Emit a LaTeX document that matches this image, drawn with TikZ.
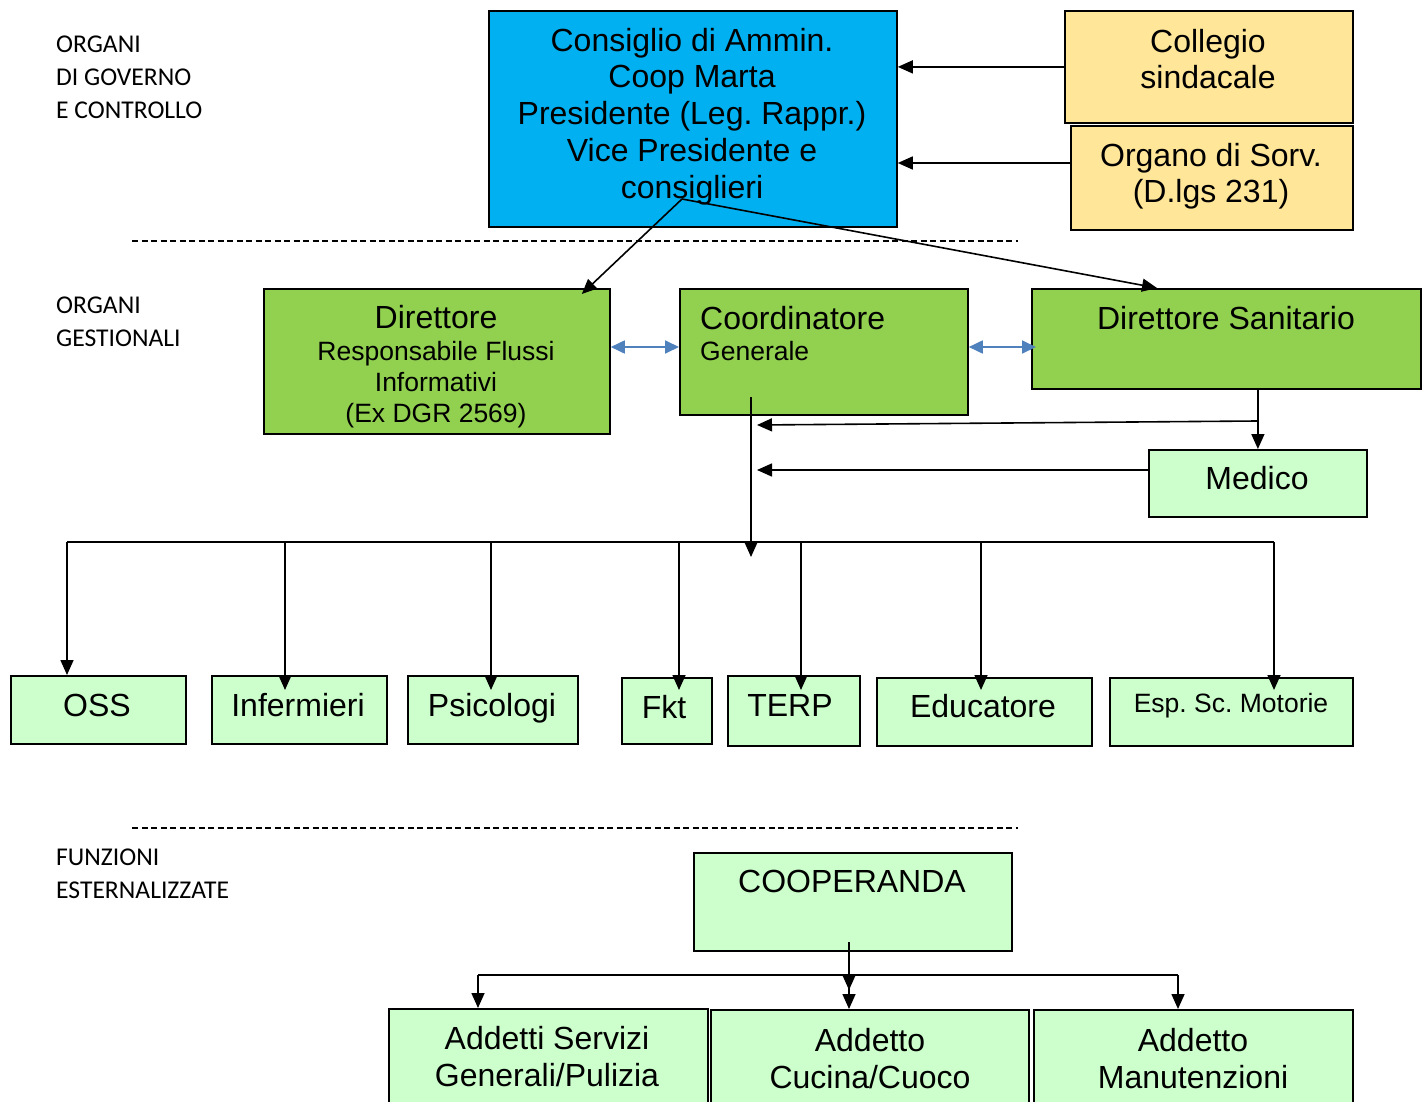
\documentclass[tikz,border=0pt]{standalone}
\usepackage{fontspec}
\setmainfont{Liberation Sans}
\newfontfamily\labfont{Carlito}
\usetikzlibrary{arrows.meta,calc}
\definecolor{cyanbox}{HTML}{00B0F0}
\definecolor{yelbox}{HTML}{FFE699}
\definecolor{grnbox}{HTML}{92D050}
\definecolor{lgrbox}{HTML}{CCFFCC}
\definecolor{bluearr}{HTML}{4F81BD}
\newcommand\fstrut{\rule{0pt}{25pt}}
\frenchspacing
\begin{document}
\frenchspacing
\begin{tikzpicture}[x=1pt,y=-1pt,
  box/.style={draw=black, line width=1.8pt, anchor=north west, inner sep=0pt},
  big/.style={font=\frenchspacing\fontsize{32}{36.8}\selectfont, anchor=north, inner sep=0pt, align=center},
  mid/.style={font=\frenchspacing\fontsize{26.5}{31}\selectfont, anchor=north, inner sep=0pt, align=center},
  lab/.style={font=\labfont\fontsize{25.6}{33}\selectfont, anchor=north west, inner sep=0pt, align=left},
  arr/.style={-{Triangle[length=15pt,width=13pt]}, line width=1.6pt},
  barr/.style={{Triangle[length=14pt,width=13pt]}-{Triangle[length=14pt,width=13pt]}, line width=1.8pt, draw=bluearr},
  ln/.style={line width=1.6pt},
  sepline/.style={line width=1.3pt, dash pattern=on 6pt off 3.5pt}]
\clip (0,0) rectangle (1426,1102);
\fill[white] (0,0) rectangle (1426,1102);

% labels
\node[lab] (l1) at (56,27) {\fstrut ORGANI\\DI GOVERNO\\E CONTROLLO};
\node[lab] (l2) at (56,288) {\fstrut ORGANI\\GESTIONALI};
\node[lab] (l3) at (56,840) {\fstrut FUNZIONI\\ESTERNALIZZATE};

% dashed separators
\draw[sepline] (132,241) -- (1018,241);
\draw[sepline] (132,828) -- (1018,828);

% top boxes
\node[box, fill=cyanbox, minimum width=408, minimum height=216] (cda) at (488,10) {};
\node[big] (tcda) at (692,26) {\fstrut Consiglio di Ammin.\\Coop Marta\\Presidente (Leg. Rappr.)\\Vice Presidente e\\consiglieri};
\node[box, fill=yelbox, minimum width=288, minimum height=112] (col) at (1064,10) {};
\node[big] (tcol) at (1208,27) {\fstrut Collegio\\sindacale};
\node[box, fill=yelbox, minimum width=282, minimum height=104] (org) at (1070,125) {};
\node[big] (torg) at (1211,141) {\fstrut Organo di Sorv.\\(D.lgs 231)};

\draw[arr] (col.west) -- (col.west -| cda.east);
\coordinate (yorg) at (0,163);
\draw[arr] (org.west |- yorg) -- (cda.east |- yorg);

% management
\node[box, fill=grnbox, minimum width=346, minimum height=145] (dir) at (263,288) {};
\node[big] (tdir) at (436,303) {\fstrut Direttore};
\node[mid] (tdir2) at (436,335) {\fstrut Responsabile Flussi\\Informativi\\(Ex DGR 2569)};
\node[box, fill=grnbox, minimum width=288, minimum height=126] (coo) at (679,288) {};
\node[big, anchor=north west, align=left] (tcoo) at (700,304) {\fstrut Coordinatore};
\node[mid, anchor=north west, align=left] (tcoo2) at (700,335) {\fstrut Generale};
\node[box, fill=grnbox, minimum width=389, minimum height=100] (san) at (1031,288) {};
\node[big] (tsan) at (1226,304) {\fstrut Direttore Sanitario};
\node[box, fill=lgrbox, minimum width=218, minimum height=67] (med) at (1148,449) {};
\node[big] (tmed) at (1257,464) {\fstrut Medico};

\coordinate (cdaout) at (682,199);
\draw[arr] (cdaout) -- ([xshift=-29pt,yshift=-6pt]dir.north east);
\draw[arr] (cdaout) -- ($(san.north west)+(126,0)$);

\coordinate (yb) at (0,347);
\draw[barr] (dir.east |- yb) -- (coo.west |- yb);
\draw[barr] (coo.east |- yb) -- ([xshift=5pt]san.west |- yb);

\coordinate (br) at (1257,421);
\draw[arr] (san.south -| med.north) -- (med.north);
\coordinate (in1) at (757,425);
\draw[arr] (br) -- (in1);
\coordinate (in2) at (757,470);
\draw[arr] (med.west |- in2) -- (in2);

\coordinate (cdown) at (751,397);
\coordinate (bustip) at (751,557);
\draw[arr] (cdown) -- (bustip);

% staff boxes
\node[box, fill=lgrbox, minimum width=175, minimum height=68] (oss) at (10,675) {};
\node[big] (toss) at (97,691) {\fstrut OSS};
\node[box, fill=lgrbox, minimum width=175, minimum height=68] (inf) at (211,675) {};
\node[big] (tinf) at (298,691) {\fstrut Infermieri};
\node[box, fill=lgrbox, minimum width=170, minimum height=68] (psi) at (407,675) {};
\node[big] (tpsi) at (492,691) {\fstrut Psicologi};
\node[box, fill=lgrbox, minimum width=90, minimum height=66] (fkt) at (621,677) {};
\node[big] (tfkt) at (664,693) {\fstrut Fkt};
\node[box, fill=lgrbox, minimum width=132, minimum height=70] (ter) at (727,675) {};
\node[big] (tter) at (790,691) {\fstrut TERP};
\node[box, fill=lgrbox, minimum width=215, minimum height=68] (edu) at (876,677) {};
\node[big] (tedu) at (983,692) {\fstrut Educatore};
\node[box, fill=lgrbox, minimum width=243, minimum height=68] (esp) at (1109,677) {};
\node[mid] (tesp) at (1231,687) {\fstrut Esp. Sc. Motorie};

% bus
\coordinate (b1) at (67,542);
\coordinate (b2) at (285,542);
\coordinate (b3) at (491,542);
\coordinate (b4) at (679,542);
\coordinate (b5) at (801,542);
\coordinate (b6) at (981,542);
\coordinate (b7) at (1274,542);
\coordinate (yend) at (0,690);
\draw[ln] (b1) -- (b7);
\draw[arr] (b1) -- (b1 |- oss.north);
\draw[arr] (b2) -- (b2 |- yend);
\draw[arr] (b3) -- (b3 |- yend);
\draw[arr] (b4) -- (b4 |- yend);
\draw[arr] (b5) -- (b5 |- yend);
\draw[arr] (b6) -- (b6 |- yend);
\draw[arr] (b7) -- (b7 |- yend);

% external
\node[box, fill=lgrbox, minimum width=318, minimum height=98] (cop) at (693,852) {};
\node[big] (tcop) at (852,867) {\fstrut COOPERANDA};
\node[box, fill=lgrbox, minimum width=319, minimum height=140] (asg) at (388,1008) {};
\node[big] (tasg) at (547,1024) {\fstrut Addetti Servizi\\Generali/Pulizia};
\node[box, fill=lgrbox, minimum width=318, minimum height=140] (acc) at (710,1009) {};
\node[big] (tacc) at (870,1026) {\fstrut Addetto\\Cucina/Cuoco};
\node[box, fill=lgrbox, minimum width=319, minimum height=140] (aman) at (1033,1009) {};
\node[big] (taman) at (1193,1026) {\fstrut Addetto\\Manutenzioni};

\coordinate (cdn) at (849,942);
\coordinate (cb1) at (478,975);
\coordinate (cb2) at (849,975);
\coordinate (cb3) at (1178,975);
\coordinate (cbt) at (849,990);
\draw[ln] (cb1) -- (cb3);
\draw[arr] (cdn) -- (cbt);
\draw[arr] (cb1) -- (cb1 |- asg.north);
\draw[arr] (cb2) -- (cb2 |- acc.north);
\draw[arr] (cb3) -- (cb3 |- aman.north);
\end{tikzpicture}
\end{document}
